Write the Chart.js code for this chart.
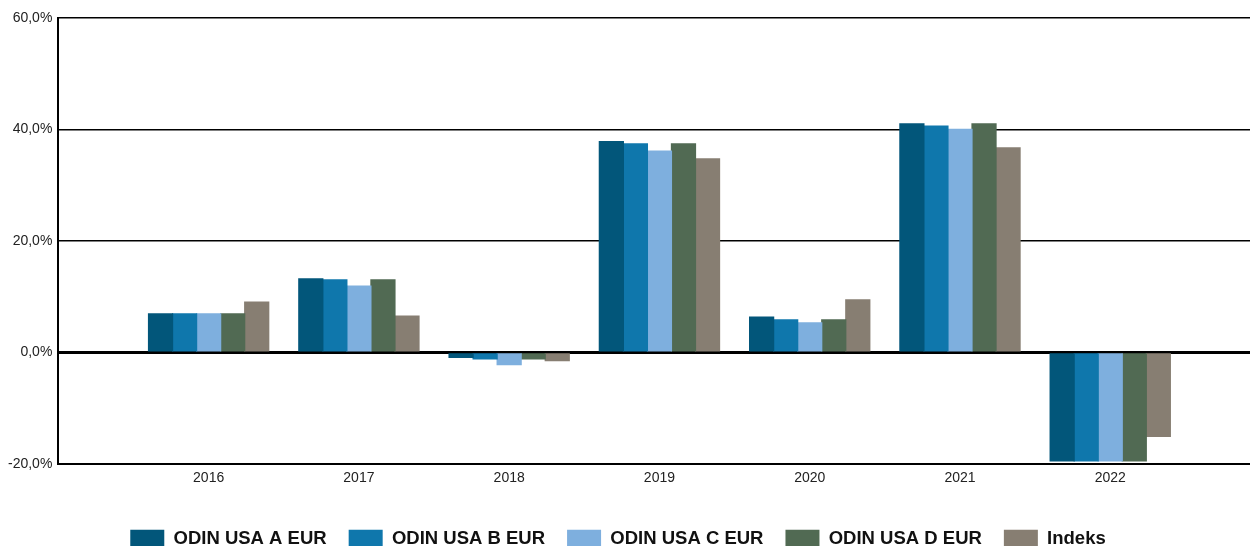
<!DOCTYPE html>
<html>
<head>
<meta charset="utf-8">
<script src="https://cdn.jsdelivr.net/npm/chart.js@4/dist/chart.umd.min.js"></script>
<style>
    html, body { margin: 0; padding: 0; background: #fff; overflow: hidden; }
    #wrap { width: 1250px; height: 546px; }
</style>
</head>
<body>
<div id="wrap"><canvas id="chart"></canvas></div>
<script>
// Årlig avkastning (%)
const years = [2016, 2017, 2018, 2019, 2020, 2021, 2022];
const seriesNames = ['ODIN USA A EUR', 'ODIN USA B EUR', 'ODIN USA C EUR', 'ODIN USA D EUR', 'Indeks'];
const odinA = [6.9, 13.2, -0.9, 37.8, 6.3, 41.0, -19.5];
const odinB = [6.9, 13.0, -1.2, 37.4, 5.8, 40.6, -19.5];
const odinC = [6.9, 11.9, -2.2, 36.1, 5.3, 40.0, -19.5];
const odinD = [6.9, 13.0, -1.2, 37.4, 5.8, 41.0, -19.5];
const indeks = [9.0, 6.5, -1.5, 34.7, 9.4, 36.7, -15.1];
const yTicks = [-20, 0, 20, 40, 60];

const COLORS = ['#02567A', '#0F77AC', '#7EAFDE', '#516A53', '#877E72'];
const FONT = 'Liberation Sans, Arial, sans-serif';

function toPoints(values) {
    return values.map((v, i) => ({x: years[i], y: v}));
}

const allSeries = [odinA, odinB, odinC, odinD, indeks];

// legend sits a bit left of the canvas centre in the original
const legendShift = {
    id: 'legendShift',
    afterLayout(chart) {
        chart.legend.right -= 16;
    }
};

new Chart(document.getElementById('chart'), {
    type: 'bar',
    data: {
        datasets: allSeries.map((values, i) => ({
            label: seriesNames[i],
            data: toPoints(values),
            backgroundColor: COLORS[i],
            borderWidth: 0,
            inflateAmount: 0.6,
            categoryPercentage: 0.8,
            barPercentage: 1.0
        }))
    },
    plugins: [legendShift],
    options: {
        responsive: true,
        maintainAspectRatio: false,
        animation: false,
        layout: {
            padding: {top: 18, left: 2, right: 0, bottom: -12}
        },
        plugins: {
            tooltip: {enabled: false},
            legend: {
                position: 'bottom',
                labels: {
                    boxWidth: 34,
                    boxHeight: 18,
                    padding: 22,
                    color: '#111',
                    font: {family: FONT, size: 18.5, weight: 'bold'}
                }
            }
        },
        scales: {
            x: {
                type: 'linear',
                min: 2015,
                max: 2022.93,
                offset: false,
                grid: {display: false, drawTicks: false},
                border: {display: true, color: '#000', width: 2},
                ticks: {
                    stepSize: 1,
                    includeBounds: false,
                    padding: 6,
                    color: '#222',
                    font: {family: FONT, size: 14},
                    callback: (value) => years.includes(value) ? String(value) : ''
                },
                afterFit: (scale) => { scale.height += 15; }
            },
            y: {
                min: yTicks[0],
                max: yTicks[yTicks.length - 1],
                afterBuildTicks: (scale) => { scale.ticks = yTicks.map(v => ({value: v})); },
                grid: {
                    color: '#000',
                    lineWidth: (ctx) => ctx.tick && ctx.tick.value === 0 ? 3 : 1.6,
                    drawTicks: false
                },
                border: {display: true, color: '#000', width: 2},
                ticks: {
                    padding: 6,
                    color: '#222',
                    font: {family: FONT, size: 14},
                    callback: (value) => value.toFixed(1).replace('.', ',') + '%'
                }
            }
        }
    }
});
</script>
</body>
</html>
